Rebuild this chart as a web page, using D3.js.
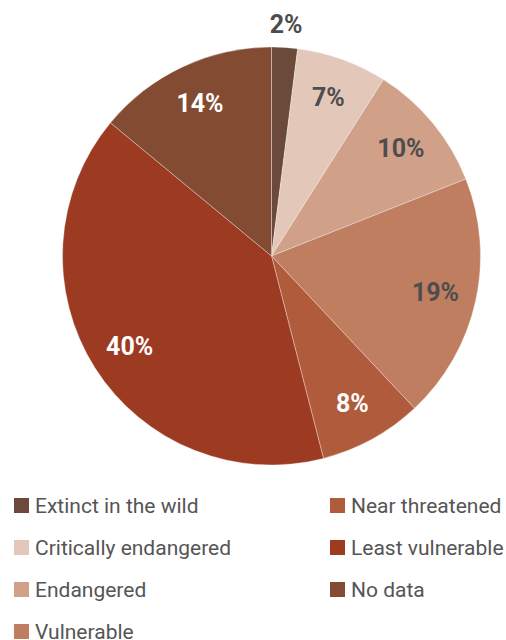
<!DOCTYPE html>
<html>
<head>
<meta charset="utf-8">
<script src="https://cdn.jsdelivr.net/npm/d3@7"></script>
<style>
  html, body { margin: 0; padding: 0; background: #fff; }
  svg { display: block; }
</style>
</head>
<body>
<svg id="chart" width="506" height="640"></svg>
<script>
// Conservation status shares
const categories = [
  "Extinct in the wild",
  "Critically endangered",
  "Endangered",
  "Vulnerable",
  "Near threatened",
  "Least vulnerable",
  "No data"
];
const shares = [2, 7, 10, 19, 8, 40, 14];
const sliceColors = ["#6b4a3b", "#e3c8ba", "#d1a088", "#c07e61", "#b05b3b", "#9d3a22", "#844b33"];
const labelColors = ["#4d4d4d", "#4d4d4d", "#4d4d4d", "#4d4d4d", "#ffffff", "#ffffff", "#ffffff"];

const svg = d3.select("#chart");
const cx = 271.5, cy = 256, radius = 209;

const data = categories.map((c, i) => ({ name: c, value: shares[i], i }));

const pie = d3.pie().sort(null).value(d => d.value);
const arcs = pie(data);

const arc = d3.arc().innerRadius(0).outerRadius(radius);
const labelArc = d3.arc().innerRadius(168).outerRadius(168);
const outerLabelArc = d3.arc().innerRadius(232).outerRadius(232);

const color = d3.scaleOrdinal().domain(categories).range(sliceColors);

const g = svg.append("g").attr("transform", `translate(${cx},${cy})`);

g.selectAll("path.slice")
  .data(arcs)
  .join("path")
  .attr("class", "slice")
  .attr("d", arc)
  .attr("fill", d => color(d.data.name))
  .attr("stroke", "#ffffff")
  .attr("stroke-opacity", 0.55)
  .attr("stroke-width", 0.6);

// Small slices get their label outside the pie
g.selectAll("text.pct")
  .data(arcs)
  .join("text")
  .attr("class", "pct")
  .attr("transform", d => {
    const small = d.data.value < 5;
    const p = (small ? outerLabelArc : labelArc).centroid(d);
    return `translate(${p[0]},${p[1]})`;
  })
  .attr("text-anchor", "middle")
  .attr("dominant-baseline", "central")
  .attr("font-family", "Roboto, 'Noto Sans', sans-serif")
  .attr("font-weight", 700)
  .attr("font-size", 25)
  .attr("fill", d => labelColors[d.data.i])
  .text(d => d.data.value + "%");

// Legend: two columns, filled top to bottom
const rowsPerCol = 4;
const legend = svg.append("g");
const colX = [14, 330];
const rowY0 = 506, rowStep = 42;

const items = legend.selectAll("g.item")
  .data(data)
  .join("g")
  .attr("class", "item")
  .attr("transform", d => {
    const col = Math.floor(d.i / rowsPerCol);
    const row = d.i % rowsPerCol;
    return `translate(${colX[col]},${rowY0 + row * rowStep})`;
  });

items.append("rect")
  .attr("x", 0)
  .attr("y", -8)
  .attr("width", 15)
  .attr("height", 15)
  .attr("fill", d => color(d.name));

items.append("text")
  .attr("x", 21)
  .attr("y", 0)
  .attr("dominant-baseline", "central")
  .attr("font-family", "Roboto, 'Noto Sans', sans-serif")
  .attr("font-size", 21)
  .attr("fill", "#555555")
  .text(d => d.name);
</script>
</body>
</html>
